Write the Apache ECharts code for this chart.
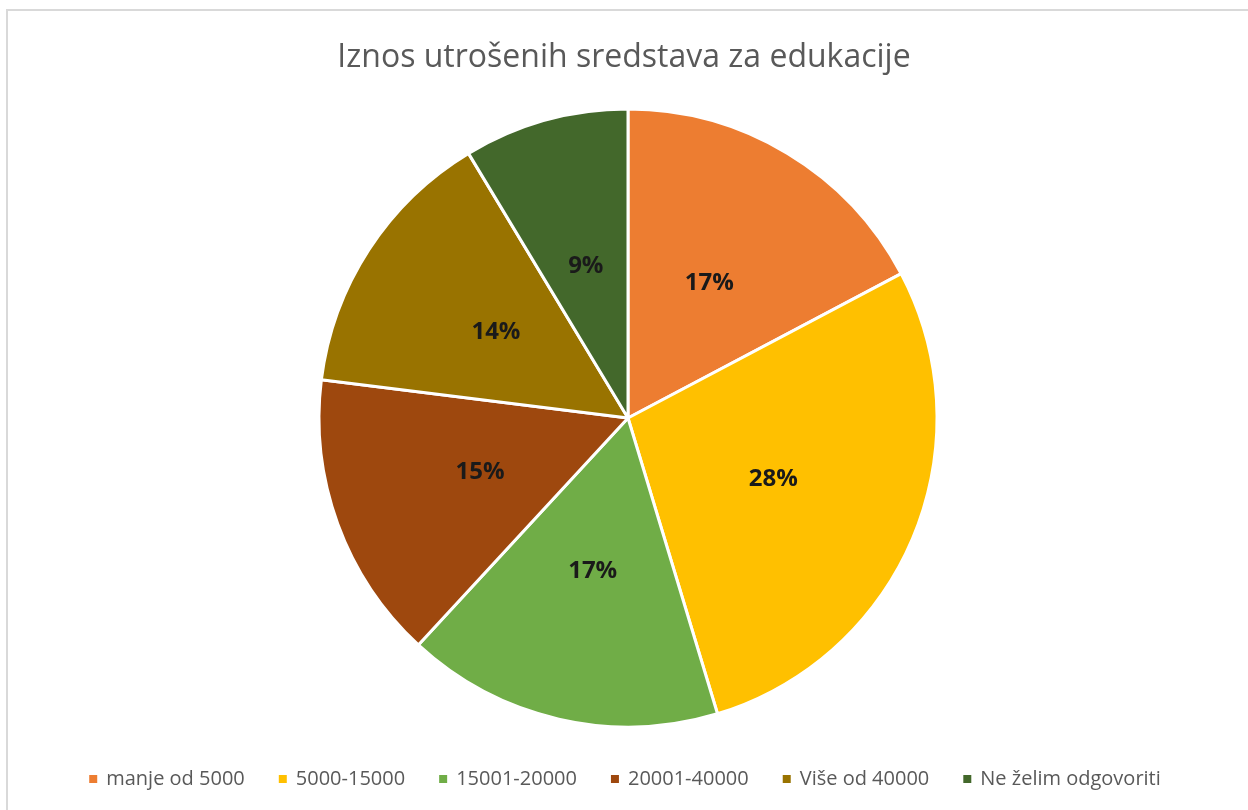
<!DOCTYPE html>
<html>
<head>
<meta charset="utf-8">
<script src="https://cdn.jsdelivr.net/npm/echarts@6/dist/echarts.min.js"></script>
<style>
  html, body { margin: 0; padding: 0; background: #fff; }
  #chart { width: 1248px; height: 810px; }
</style>
</head>
<body>
<div id="chart"></div>
<script>
var categories = ['manje od 5000', '5000-15000', '15001-20000', '20001-40000', 'Više od 40000', 'Ne želim odgovoriti'];
var counts = [24, 39, 23, 21, 20, 12];
var colors = ['#ED7D31', '#FFC000', '#70AD47', '#9E480E', '#997300', '#43682B'];

var pieData = [];
for (var i = 0; i < categories.length; i++) {
    pieData.push({ name: categories[i], value: counts[i], itemStyle: { color: colors[i] } });
}

var chart = echarts.init(document.getElementById('chart'));
chart.setOption({
    animation: false,
    graphic: [{
        type: 'rect',
        shape: { x: 7, y: 10, width: 1300, height: 900 },
        style: { fill: 'none', stroke: '#d9d9d9', lineWidth: 2 },
        silent: true
    }],
    title: {
        text: 'Iznos utrošenih sredstava za edukacije',
        left: 'center',
        top: 37,
        textStyle: {
            fontFamily: 'Open Sans',
            fontSize: 32,
            fontWeight: 'normal',
            color: '#595959'
        }
    },
    legend: {
        bottom: 16,
        left: 'center',
        icon: 'rect',
        itemWidth: 10,
        itemHeight: 10,
        itemGap: 32,
        textStyle: {
            fontFamily: 'Open Sans',
            fontSize: 20,
            color: '#595959',
            padding: [0, 0, 0, 3]
        },
        data: categories
    },
    series: [{
        type: 'pie',
        center: [628, 418],
        radius: 309,
        startAngle: 90,
        clockwise: true,
        itemStyle: { borderColor: '#fff', borderWidth: 3 },
        label: {
            show: true,
            position: 'inside',
            fontFamily: 'Open Sans',
            fontSize: 24,
            fontWeight: 'bold',
            color: '#1a1a1a',
            padding: [16, 0, 0, 0],
            formatter: function (p) {
                return Math.round(p.percent) + '%';
            }
        },
        labelLine: { show: false },
        emphasis: { disabled: true },
        data: pieData
    }]
});
</script>
</body>
</html>
